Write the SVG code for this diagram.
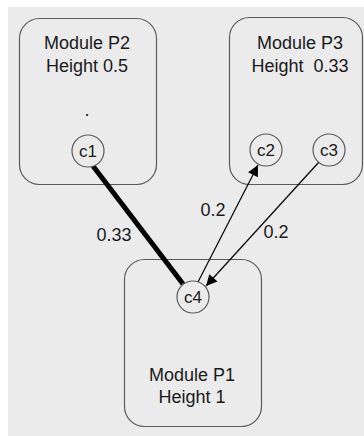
<svg xmlns="http://www.w3.org/2000/svg" width="364" height="436" viewBox="0 0 364 436">
<defs>
<style>
.box{fill:none;stroke:#5a5a5a;stroke-width:1.2}
.port{fill:#ebebeb;stroke:#5a5a5a;stroke-width:1.2}
text{font-family:"Liberation Sans",Arial,sans-serif;font-size:18px;fill:#1a1a1a;text-anchor:middle}
.pl{font-size:17px}
.edge{stroke:#000;fill:none}
</style>
<marker id="ah" viewBox="0 0 10 10" refX="10" refY="5" markerWidth="12" markerHeight="11" markerUnits="userSpaceOnUse" orient="auto">
<path d="M0,0 L10,5 L0,10 z" fill="#000"/>
</marker>
</defs>
<rect x="0" y="0" width="364" height="436" fill="#ffffff"/>
<rect x="8" y="7" width="356" height="429" fill="#ebebeb"/>
<g id="P2">
<rect class="box" x="19.5" y="18.5" width="137" height="166" rx="20"/>
<text x="87" y="49">Module P2</text>
<text x="87" y="72">Height 0.5</text>
<text x="87" y="116">.</text>
</g>
<g id="P3">
<rect class="box" x="229.5" y="17.5" width="133" height="167" rx="20"/>
<text x="300" y="49">Module P3</text>
<text x="300" y="72" xml:space="preserve">Height  0.33</text>
</g>
<g id="P1">
<rect class="box" x="124.5" y="259.5" width="137" height="167" rx="20"/>
<text x="192" y="381">Module P1</text>
<text x="192" y="403">Height 1</text>
</g>
<g id="connectors">
<line class="edge" x1="93" y1="166" x2="183" y2="284" stroke-width="5"/>
<line class="edge" x1="198" y1="282" x2="258" y2="165" stroke-width="1.2" marker-end="url(#ah)"/>
<line class="edge" x1="319" y1="162" x2="206" y2="286" stroke-width="1.2" marker-end="url(#ah)"/>
<text x="114" y="241">0.33</text>
<text x="213" y="216">0.2</text>
<text x="276" y="238">0.2</text>
</g>
<g id="c1"><circle class="port" cx="88" cy="151" r="16"/><text class="pl" x="88" y="157">c1</text></g>
<g id="c2"><circle class="port" cx="266" cy="150" r="16"/><text class="pl" x="266" y="156">c2</text></g>
<g id="c3"><circle class="port" cx="329" cy="150" r="16"/><text class="pl" x="329" y="156">c3</text></g>
<g id="c4"><circle class="port" cx="193" cy="297" r="16"/><text class="pl" x="193" y="303">c4</text></g>
</svg>
